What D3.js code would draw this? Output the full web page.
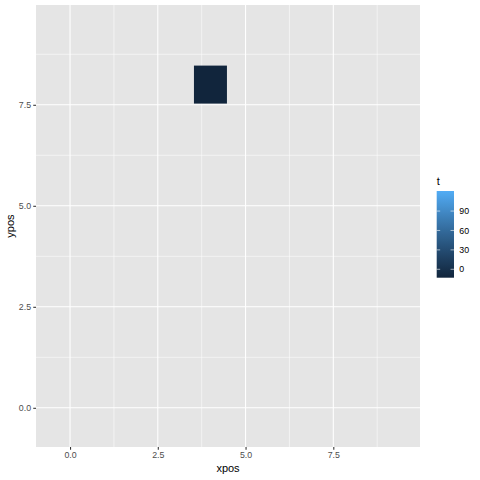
<!DOCTYPE html>
<html><head><meta charset="utf-8">
<script src="https://cdn.jsdelivr.net/npm/d3@7"></script>
<style>body{margin:0;background:#fff}svg{display:block}text{font-family:"Liberation Sans",Arial,Helvetica,sans-serif}</style>
</head><body>
<script>
// ---- data ----
const tileX = [4];
const tileY = [8];
const tileT = [-13];
const tileSize = 0.94;
const tLimits = [-13, 121];
const xTicks = [0, 2.5, 5, 7.5];
const yTicks = [0, 2.5, 5, 7.5];
const xMinor = [1.25, 3.75, 6.25, 8.75];
const yMinor = [1.25, 3.75, 6.25, 8.75];
const legendTicks = [0, 30, 60, 90];
const xDomain = [-0.97, 9.97];
const yDomain = [-0.97, 9.97];

const W = 480, H = 480;
const P = {l: 36, r: 420, t: 5, b: 447};
const svg = d3.select("body").append("svg").attr("width", W).attr("height", H);
svg.append("rect").attr("width", W).attr("height", H).attr("fill", "#fff");

const x = d3.scaleLinear().domain(xDomain).range([P.l, P.r]);
const y = d3.scaleLinear().domain(yDomain).range([P.b, P.t]);
const col = d3.scaleLinear().domain(tLimits).range(["#11253C", "#52ACF5"]).interpolate(d3.interpolateLab);

svg.append("rect").attr("x", P.l).attr("y", P.t).attr("width", P.r - P.l).attr("height", P.b - P.t).attr("fill", "#E5E5E5");
const g = svg.append("g");
g.selectAll(".vmin").data(xMinor).join("line").attr("x1", d => x(d)).attr("x2", d => x(d)).attr("y1", P.t).attr("y2", P.b).attr("stroke", "#fff").attr("stroke-width", 0.53);
g.selectAll(".hmin").data(yMinor).join("line").attr("y1", d => y(d)).attr("y2", d => y(d)).attr("x1", P.l).attr("x2", P.r).attr("stroke", "#fff").attr("stroke-width", 0.53);
g.selectAll(".vmaj").data(xTicks).join("line").attr("x1", d => x(d)).attr("x2", d => x(d)).attr("y1", P.t).attr("y2", P.b).attr("stroke", "#fff").attr("stroke-width", 1.07);
g.selectAll(".hmaj").data(yTicks).join("line").attr("y1", d => y(d)).attr("y2", d => y(d)).attr("x1", P.l).attr("x2", P.r).attr("stroke", "#fff").attr("stroke-width", 1.07);

// tiles
const tiles = tileX.map((d, i) => ({x: d, y: tileY[i], t: tileT[i]}));
svg.selectAll(".tile").data(tiles).join("rect")
  .attr("x", d => x(d.x - tileSize / 2)).attr("y", d => y(d.y + tileSize / 2))
  .attr("width", d => x(d.x + tileSize / 2) - x(d.x - tileSize / 2))
  .attr("height", d => y(d.y - tileSize / 2) - y(d.y + tileSize / 2))
  .attr("fill", d => col(d.t));

// axes
const fmt = d3.format(".1f");
const xa = svg.append("g").attr("transform", `translate(0,${P.b})`)
  .call(d3.axisBottom(x).tickValues(xTicks).tickFormat(fmt).tickSize(2.75).tickPadding(2.2));
const ya = svg.append("g").attr("transform", `translate(${P.l},0)`)
  .call(d3.axisLeft(y).tickValues(yTicks).tickFormat(fmt).tickSize(2.75).tickPadding(2.2));
[xa, ya].forEach(a => {
  a.select(".domain").remove();
  a.selectAll(".tick line").attr("stroke", "#333").attr("stroke-width", 1.07);
  a.selectAll(".tick text").attr("fill", "#4D4D4D").attr("font-size", 8.8);
});

svg.append("text").attr("x", (P.l + P.r) / 2).attr("y", 471.5).attr("text-anchor", "middle").attr("font-size", 11).attr("fill", "#000").text("xpos");
svg.append("text").attr("transform", `translate(14,${(P.t + P.b) / 2}) rotate(-90)`).attr("text-anchor", "middle").attr("font-size", 11).attr("fill", "#000").text("ypos");

// legend
const L = {x: 436.7, w: 17.3, top: 191, bot: 277.7};
const ly = d3.scaleLinear().domain(tLimits).range([L.bot, L.top]);
const grad = svg.append("defs").append("linearGradient").attr("id", "cb").attr("x1", 0).attr("y1", 1).attr("x2", 0).attr("y2", 0);
d3.range(0, 1.0001, 0.05).forEach(f => grad.append("stop").attr("offset", f).attr("stop-color", col(tLimits[0] + f * (tLimits[1] - tLimits[0]))));
svg.append("rect").attr("x", L.x).attr("y", L.top).attr("width", L.w).attr("height", L.bot - L.top).attr("fill", "url(#cb)");
const lt = svg.append("g");
lt.selectAll(".l1").data(legendTicks).join("line").attr("x1", L.x).attr("x2", L.x + L.w / 5).attr("y1", d => ly(d)).attr("y2", d => ly(d)).attr("stroke", "#fff").attr("stroke-width", 0.6);
lt.selectAll(".l2").data(legendTicks).join("line").attr("x1", L.x + L.w - L.w / 5).attr("x2", L.x + L.w).attr("y1", d => ly(d)).attr("y2", d => ly(d)).attr("stroke", "#fff").attr("stroke-width", 0.6);
lt.selectAll("text").data(legendTicks).join("text").attr("x", 459.3).attr("y", d => ly(d)).attr("dy", "0.35em").attr("font-size", 8.8).attr("fill", "#000").text(d => d);
svg.append("text").attr("x", L.x).attr("y", 184.5).attr("font-size", 11).attr("fill", "#000").text("t");
</script>
</body></html>
